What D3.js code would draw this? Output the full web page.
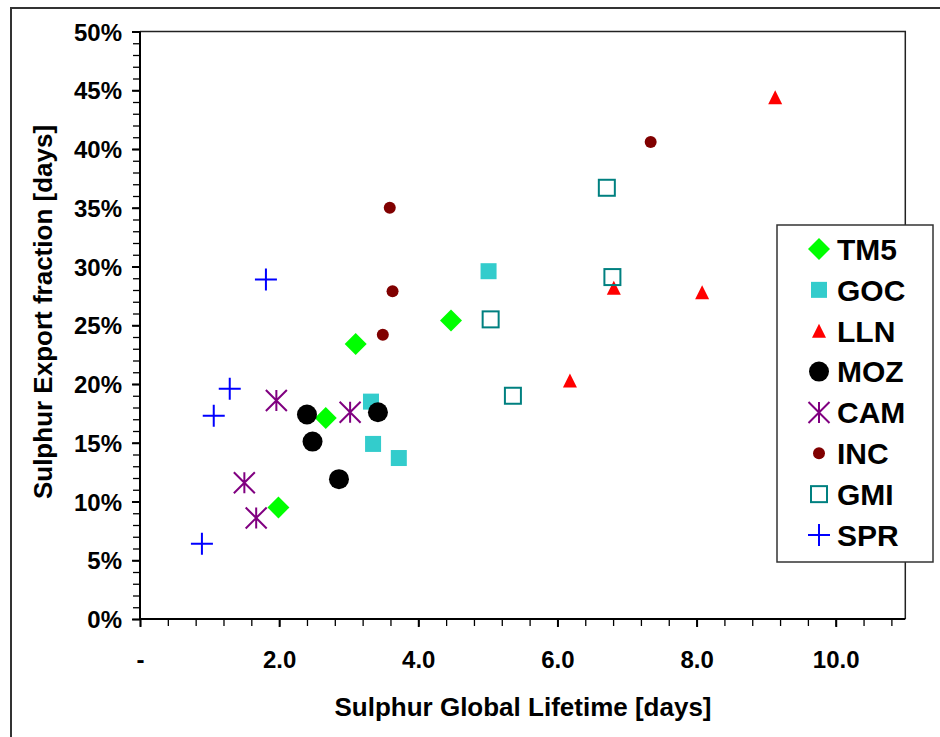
<!DOCTYPE html>
<html>
<head>
<meta charset="utf-8">
<script src="https://cdn.jsdelivr.net/npm/d3@7"></script>
<style>
  html, body { margin: 0; padding: 0; background: #fff; }
  svg { display: block; font-family: Arial, "Liberation Sans", sans-serif; }
</style>
</head>
<body>
<svg id="chart" width="940" height="737"></svg>
<script>
// Series names and per-model values: lifetime in days, export fraction in %
const seriesNames = ["TM5", "GOC", "LLN", "MOZ", "CAM", "INC", "GMI", "SPR"];

const tm5Lifetime = [1.99, 2.67, 3.10, 4.47];
const tm5Export   = [9.5, 17.1, 23.4, 25.4];

const gocLifetime = [3.32, 3.35, 3.72, 5.01];
const gocExport   = [18.5, 14.9, 13.7, 29.6];

const llnLifetime = [6.81, 8.08, 6.18, 9.13];
const llnExport   = [28.2, 27.8, 20.3, 44.4];

const mozLifetime = [2.40, 3.42, 2.48, 2.86];
const mozExport   = [17.4, 17.6, 15.1, 11.9];

const camLifetime = [1.96, 3.02, 1.50, 1.67];
const camExport   = [18.6, 17.6, 11.6, 8.6];

const incLifetime = [3.63, 3.49, 3.59, 7.34];
const incExport   = [27.9, 24.2, 35.0, 40.6];

const gmiLifetime = [6.71, 6.79, 5.04, 5.36];
const gmiExport   = [36.7, 29.1, 25.5, 19.0];

const sprLifetime = [1.81, 1.29, 1.06, 0.89];
const sprExport   = [28.9, 19.6, 17.3, 6.4];

// Axis tick values and labels
const xMajorTicks = [0, 2, 4, 6, 8, 10];
const xTickLabels = ["-", "2.0", "4.0", "6.0", "8.0", "10.0"];
const yMajorTicks = [0, 5, 10, 15, 20, 25, 30, 35, 40, 45, 50];

const xTitle = "Sulphur Global Lifetime [days]";
const yTitle = "Sulphur Export fraction [days]";

// Marker style per series
const styles = {
  TM5: { shape: "diamond", color: "#00ff00", size: 22 },
  GOC: { shape: "square",  color: "#33cccc", size: 16 },
  LLN: { shape: "triangle", color: "#ff0000", size: 14 },
  MOZ: { shape: "circle",  color: "#000000", size: 20 },
  CAM: { shape: "asterisk", color: "#800080", size: 21 },
  INC: { shape: "circle",  color: "#800000", size: 12 },
  GMI: { shape: "openSquare", color: "#008080", size: 18 },
  SPR: { shape: "plus",    color: "#0000ff", size: 22 }
};

const seriesData = {
  TM5: d3.zip(tm5Lifetime, tm5Export),
  GOC: d3.zip(gocLifetime, gocExport),
  LLN: d3.zip(llnLifetime, llnExport),
  MOZ: d3.zip(mozLifetime, mozExport),
  CAM: d3.zip(camLifetime, camExport),
  INC: d3.zip(incLifetime, incExport),
  GMI: d3.zip(gmiLifetime, gmiExport),
  SPR: d3.zip(sprLifetime, sprExport)
};

const svg = d3.select("#chart");
const plot = { left: 140, right: 905.3, top: 31.5, bottom: 619 };

const x = d3.scaleLinear().domain([0, 11]).range([plot.left, plot.right]);
const y = d3.scaleLinear().domain([0, 50]).range([plot.bottom, plot.top]);

// Outer chart frame
svg.append("rect")
  .attr("x", 11).attr("y", 8)
  .attr("width", 1000).attr("height", 800)
  .attr("fill", "none").attr("stroke", "#333").attr("stroke-width", 2);

// Plot frame: top and right edges
svg.append("path")
  .attr("d", `M${plot.left},${plot.top}H${plot.right}V${plot.bottom}`)
  .attr("fill", "none").attr("stroke", "#222").attr("stroke-width", 1.5);

// Minor ticks
const xMinor = d3.range(0, 10.81, 0.4);
const yMinor = d3.range(0, 51, 1);

const xAxisMinor = d3.axisBottom(x).tickValues(xMinor).tickSize(7).tickSizeOuter(0).tickFormat("");
const yAxisMinor = d3.axisLeft(y).tickValues(yMinor).tickSize(7).tickSizeOuter(0).tickFormat("");

const gxm = svg.append("g").attr("transform", `translate(0,${plot.bottom})`).call(xAxisMinor);
const gym = svg.append("g").attr("transform", `translate(${plot.left},0)`).call(yAxisMinor);
[gxm, gym].forEach(g => {
  g.select(".domain").remove();
  g.selectAll(".tick line").attr("stroke", "#000").attr("stroke-width", 1.3);
});

// Major axes with labels
const xAxis = d3.axisBottom(x).tickValues(xMajorTicks).tickSize(8).tickSizeOuter(0)
  .tickFormat((d, i) => xTickLabels[i]);
const yAxis = d3.axisLeft(y).tickValues(yMajorTicks).tickSize(8).tickSizeOuter(0)
  .tickFormat(d => d + "%");

const gx = svg.append("g").attr("transform", `translate(0,${plot.bottom})`).call(xAxis);
gx.select(".domain").attr("d", `M${plot.left},0H${plot.right}`).attr("stroke", "#000").attr("stroke-width", 2);
gx.selectAll(".tick line").attr("stroke", "#000").attr("stroke-width", 2);
gx.selectAll(".tick text")
  .attr("y", 49).attr("dy", 0)
  .attr("font-size", 24).attr("font-weight", "bold").attr("fill", "#000");

const gy = svg.append("g").attr("transform", `translate(${plot.left},0)`).call(yAxis);
gy.select(".domain").attr("d", `M0,${plot.top}V${plot.bottom}`).attr("stroke", "#000").attr("stroke-width", 2);
gy.selectAll(".tick line").attr("stroke", "#000").attr("stroke-width", 2);
gy.selectAll(".tick text")
  .attr("x", -18).attr("dy", "0.36em")
  .attr("font-size", 24).attr("font-weight", "bold").attr("fill", "#000");

// Axis titles
svg.append("text")
  .attr("x", 523).attr("y", 716)
  .attr("text-anchor", "middle")
  .attr("font-size", 26).attr("font-weight", "bold")
  .text(xTitle);

svg.append("text")
  .attr("transform", "translate(52,312) rotate(-90)")
  .attr("text-anchor", "middle")
  .attr("font-size", 26).attr("font-weight", "bold")
  .text(yTitle);

// Marker drawing
function drawMarker(g, st) {
  const s = st.size, h = s / 2;
  switch (st.shape) {
    case "diamond":
      g.append("path").attr("d", `M0,${-h}L${h},0L0,${h}L${-h},0Z`).attr("fill", st.color);
      break;
    case "square":
      g.append("rect").attr("x", -h).attr("y", -h).attr("width", s).attr("height", s).attr("fill", st.color);
      break;
    case "openSquare":
      g.append("rect").attr("x", -h + 1).attr("y", -h + 1).attr("width", s - 2).attr("height", s - 2)
        .attr("fill", "none").attr("stroke", st.color).attr("stroke-width", 2);
      break;
    case "triangle":
      g.append("path").attr("d", `M0,${-h}L${h},${h}L${-h},${h}Z`).attr("fill", st.color);
      break;
    case "circle":
      g.append("circle").attr("r", h).attr("fill", st.color);
      break;
    case "plus":
      g.append("path").attr("d", `M${-h},0H${h}M0,${-h}V${h}`)
        .attr("stroke", st.color).attr("stroke-width", 2).attr("fill", "none");
      break;
    case "asterisk":
      g.append("path").attr("d", `M${-h},${-h}L${h},${h}M${h},${-h}L${-h},${h}M0,${-h}V${h}`)
        .attr("stroke", st.color).attr("stroke-width", 2).attr("fill", "none");
      break;
  }
}

// Data points
const pointsLayer = svg.append("g");
seriesNames.forEach(name => {
  const st = styles[name];
  pointsLayer.selectAll(null)
    .data(seriesData[name])
    .enter().append("g")
    .attr("transform", d => `translate(${x(d[0])},${y(d[1])})`)
    .each(function () { drawMarker(d3.select(this), st); });
});

// Legend
const legend = svg.append("g");
legend.append("rect")
  .attr("x", 777).attr("y", 225).attr("width", 156).attr("height", 337)
  .attr("fill", "#fff").attr("stroke", "#333").attr("stroke-width", 1.5);

const legendY = d3.scalePoint().domain(seriesNames).range([249, 535]);
seriesNames.forEach(name => {
  const item = legend.append("g").attr("transform", `translate(0,${legendY(name)})`);
  drawMarker(item.append("g").attr("transform", "translate(819,0)"), styles[name]);
  item.append("text")
    .attr("x", 837).attr("y", 0).attr("dy", "0.36em")
    .attr("font-size", 30).attr("font-weight", "bold")
    .text(name);
});
</script>
</body>
</html>
